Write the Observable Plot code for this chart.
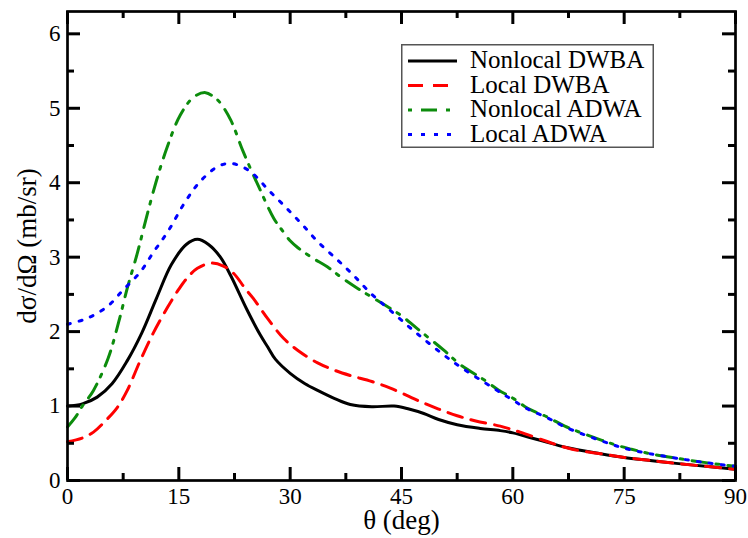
<!DOCTYPE html>
<html><head><meta charset="utf-8">
<script src="https://cdn.jsdelivr.net/npm/d3@7"></script>
<script src="https://cdn.jsdelivr.net/npm/@observablehq/plot@0.6"></script>
<style>
html,body{margin:0;padding:0;background:#fff;}
#wrap{position:relative;width:748px;height:538px;}
#legend{position:absolute;left:401px;top:44px;}
</style></head><body><div id="wrap"></div>
<script>
// ---- data ----
const thetaNonlocalDWBA = [0,2,4,6,8,10,12,14,16,17.5,19,20.6,22,24.2,26,27,28,30,32,33.7,36,38.1,41,44,46,48,50,52.5,55.6,58.3,60,63.3,67.4,71.8,75,78.5,82,86,90];
const nonlocalDWBA      = [1.00,1.03,1.12,1.30,1.60,1.98,2.45,2.90,3.17,3.24,3.17,3.00,2.75,2.29,1.95,1.79,1.63,1.44,1.30,1.21,1.10,1.02,0.99,1.00,0.96,0.90,0.82,0.75,0.70,0.67,0.64,0.55,0.44,0.36,0.31,0.27,0.23,0.19,0.15];

const thetaLocalDWBA = [0,2,3.5,5,6.7,8,9.8,11.5,13.5,15,16.2,17.5,19.3,21,22.4,24,25,27,29.1,31,33.7,36,38.1,41,43.5,46,48,50,52.5,55,58.3,61,65,68,71.8,75,78.5,82,86,90];
const localDWBA      = [0.52,0.57,0.65,0.79,0.98,1.20,1.61,1.97,2.33,2.57,2.73,2.85,2.92,2.88,2.78,2.57,2.45,2.17,1.91,1.75,1.58,1.48,1.41,1.33,1.24,1.13,1.04,0.96,0.87,0.80,0.73,0.65,0.51,0.42,0.36,0.31,0.27,0.23,0.19,0.15];

const thetaNonlocalADWA = [0,1,2,3.5,5.5,6.9,8.1,9.4,10.5,11.9,13.4,15.2,17,18.6,20,20.6,22,23.7,25.7,27.8,29,30,31,33,35,37,39.1,42.2,44.9,47,50.7,53,56,58,60.1,62,64.7,67,69.5,72,74.1,76,78.5,82,86,90];
const nonlocalADWA      = [0.72,0.84,1.00,1.21,1.65,2.13,2.60,3.05,3.48,4.00,4.47,4.91,5.15,5.21,5.13,5.07,4.84,4.41,3.96,3.52,3.35,3.22,3.13,2.99,2.87,2.72,2.58,2.39,2.22,2.05,1.75,1.55,1.36,1.22,1.10,0.97,0.85,0.73,0.63,0.54,0.47,0.42,0.36,0.30,0.24,0.19];

const thetaLocalADWA = [0,2.7,5.4,7.5,9.8,11.6,13.5,15.9,17.9,20.3,22,23.6,24.9,27.1,29.4,31.7,33.8,36.4,38.5,40.8,43.2,46.9,52,57.4,60,62,64.7,67,69.5,72,74.1,76,78.5,82,86,90];
const localADWA      = [2.10,2.18,2.34,2.56,2.80,3.07,3.34,3.75,4.02,4.22,4.26,4.21,4.13,3.90,3.67,3.43,3.20,2.96,2.76,2.52,2.31,1.99,1.59,1.24,1.08,0.96,0.84,0.72,0.62,0.53,0.46,0.41,0.36,0.30,0.24,0.19];

const seriesNames = ["Nonlocal DWBA","Local DWBA","Nonlocal ADWA","Local ADWA"];
const xMajorTicks = [0,15,30,45,60,75,90];
const xMinorTicks = [7.5,22.5,37.5,52.5,67.5,82.5];
const yMajorTicks = [0,1,2,3,4,5,6];
const yMinorTicks = [0.5,1.5,2.5,3.5,4.5,5.5];
const xLabel = "θ (deg)";
const yLabel = "dσ/dΩ (mb/sr)";

// ---- build ----
const toRows = (xs, ys) => xs.map((x, i) => ({x, y: ys[i]}));
const seriesData = [
  toRows(thetaNonlocalDWBA, nonlocalDWBA),
  toRows(thetaLocalDWBA, localDWBA),
  toRows(thetaNonlocalADWA, nonlocalADWA),
  toRows(thetaLocalADWA, localADWA)
];
const styles = [
  {stroke: "#000000", strokeWidth: 3, strokeDasharray: null},
  {stroke: "#ff0000", strokeWidth: 3, strokeDasharray: "15,9"},
  {stroke: "#0c8c0c", strokeWidth: 3, strokeDasharray: "16,8,3,9"},
  {stroke: "#0000ff", strokeWidth: 3, strokeDasharray: "3,9"}
];
const font = "'Liberation Serif', 'DejaVu Serif', serif";
const tickW = 3;
const fmt = d => String(d);

const W = 748, H = 538, mL = 67, mR = 13, mT = 11, mB = 58;
const frameW = W - mL - mR, frameH = H - mT - mB;

const lineMarks = seriesData.map((rows, i) => Plot.line(rows, {
  x: "x", y: "y", curve: "catmull-rom",
  stroke: styles[i].stroke, strokeWidth: styles[i].strokeWidth,
  strokeDasharray: styles[i].strokeDasharray
}));

// inward ticks: short rules (full-frame rules inset down to the tick length)
const ticks = (values, axis, side, len) => {
  const o = {stroke: "black", strokeWidth: tickW};
  if (axis === "x") {
    if (side === "bottom") o.insetTop = frameH - len; else o.insetBottom = frameH - len;
    return Plot.ruleX(values, {x: d => d, ...o});
  }
  if (side === "left") o.insetRight = frameW - len; else o.insetLeft = frameW - len;
  return Plot.ruleY(values, {y: d => d, ...o});
};

const chart = Plot.plot({
  width: W, height: H,
  marginLeft: mL, marginRight: mR, marginTop: mT, marginBottom: mB,
  x: {domain: [0, 90], axis: null},
  y: {domain: [0, 6.3], axis: null},
  style: {fontFamily: font, fontSize: "23px", color: "black", background: "white"},
  marks: [
    ...lineMarks,
    Plot.axisX(xMajorTicks, {anchor: "bottom", tickSize: 0, tickPadding: 7, tickFormat: fmt, label: null, fontSize: 23}),
    Plot.axisY(yMajorTicks, {anchor: "left", tickSize: 0, tickPadding: 7, tickFormat: fmt, label: null, fontSize: 23}),
    ticks(xMajorTicks, "x", "bottom", 13),
    ticks(xMinorTicks, "x", "bottom", 7),
    ticks(xMajorTicks, "x", "top", 13),
    ticks(xMinorTicks, "x", "top", 7),
    ticks(yMajorTicks, "y", "left", 13),
    ticks(yMinorTicks, "y", "left", 7),
    ticks(yMajorTicks, "y", "right", 13),
    ticks(yMinorTicks, "y", "right", 7),
    Plot.frame({stroke: "black", strokeWidth: 2.7}),
    Plot.text([xLabel], {text: d => d, frameAnchor: "bottom", dy: 48, fontSize: 27, fill: "black"}),
    Plot.text([yLabel], {text: d => d, frameAnchor: "left", textAnchor: "middle", dx: -40, rotate: -90, fontSize: 27, fill: "black"})
  ]
});
const wrap = document.getElementById("wrap");
wrap.appendChild(chart);

// ---- legend (inside the plot area, upper right) ----
const lw = 253, lh = 104;
const leg = d3.create("svg").attr("id", "legend").attr("width", lw).attr("height", lh);
leg.append("rect").attr("x", 0.75).attr("y", 0.75).attr("width", lw - 1.5).attr("height", lh - 1.5)
  .attr("fill", "white").attr("stroke", "#555").attr("stroke-width", 1.5);
seriesNames.forEach((name, i) => {
  const base = 24 + i * 24.5;
  const ly = base - 7;
  leg.append("line").attr("x1", 7).attr("x2", 56).attr("y1", ly).attr("y2", ly)
    .attr("stroke", styles[i].stroke).attr("stroke-width", 3.2)
    .attr("stroke-dasharray", i === 3 ? "4,9" : (i === 2 ? "4,9,16,9" : (i === 1 ? "15,10" : null)));
  leg.append("text").attr("x", 69).attr("y", base).text(name)
    .attr("font-family", font).attr("font-size", 25).attr("fill", "black");
});
wrap.appendChild(leg.node());
</script></body></html>
